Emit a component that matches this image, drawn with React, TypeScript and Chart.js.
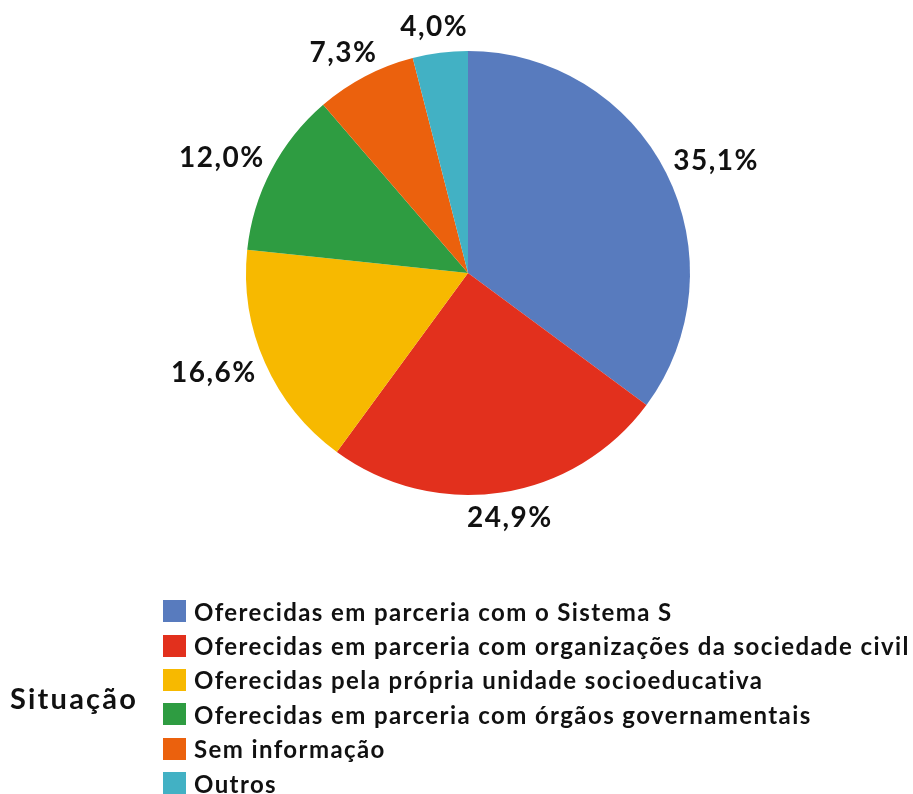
import React, { useEffect, useRef } from "react";
import { Chart, registerables } from "chart.js";

Chart.register(...registerables);

const categories = [
  "Oferecidas em parceria com o Sistema S",
  "Oferecidas em parceria com organizações da sociedade civil",
  "Oferecidas pela própria unidade socioeducativa",
  "Oferecidas em parceria com órgãos governamentais",
  "Sem informação",
  "Outros",
];
const values = [35.1, 24.9, 16.6, 12.0, 7.3, 4.0];
const colors = ["#587BBE", "#E2301D", "#F7B900", "#2E9C41", "#EB610D", "#42B1C4"];
const legendTitle = "Situação";

const FONT = "Lato, 'Noto Sans', sans-serif";

const fmt = (v: number) => v.toFixed(1).replace(".", ",") + "%";

const labelPlugin = {
  id: "outerLabels",
  afterDatasetsDraw(chart: any) {
    const ctx = chart.ctx;
    const meta = chart.getDatasetMeta(0);
    ctx.save();
    ctx.font = `bold 28px ${FONT}`;
    try {
      (ctx as any).letterSpacing = "1.5px";
    } catch (e) {}
    ctx.fillStyle = "#111";
    ctx.textAlign = "center";
    ctx.textBaseline = "middle";
    meta.data.forEach((arc: any, i: number) => {
      const { x, y, startAngle, endAngle, outerRadius } = arc.getProps(
        ["x", "y", "startAngle", "endAngle", "outerRadius"],
        true
      );
      const mid = (startAngle + endAngle) / 2;
      const dx = Math.cos(mid);
      const dy = Math.sin(mid);
      const text = fmt(values[i]);
      const w = ctx.measureText(text).width;
      const hw = w / 2;
      const hh = 13;
      const r = outerRadius + 13;
      const cx = x + dx * r + dx * hw;
      const cy = y + dy * r + dy * hh;
      ctx.fillText(text, cx, cy);
    });
    ctx.restore();
  },
};

export default function App() {
  const ref = useRef<HTMLCanvasElement>(null);
  useEffect(() => {
    document.body.style.margin = "0";
    const chart = new Chart(ref.current!, {
      type: "pie",
      data: {
        labels: categories,
        datasets: [
          {
            data: values,
            backgroundColor: colors,
            borderWidth: 0,
          },
        ],
      },
      options: {
        animation: false,
        responsive: false,
        layout: { padding: { left: 246, right: 223, top: 51, bottom: 299 } },
        plugins: {
          legend: { display: false },
          tooltip: { enabled: false },
        },
      },
      plugins: [labelPlugin],
    });
    return () => chart.destroy();
  }, []);

  return (
    <div style={{ position: "relative", width: 913, height: 794, background: "#fff", fontFamily: FONT }}>
      <canvas ref={ref} width={913} height={794} style={{ position: "absolute", left: 0, top: 0 }} />
      <div
        style={{
          position: "absolute",
          left: 10,
          top: 697,
          transform: "translateY(-50%)",
          fontWeight: 700,
          fontSize: 29,
          letterSpacing: 2.2,
          color: "#111",
        }}
      >
        {legendTitle}
      </div>
      <div style={{ position: "absolute", left: 163, top: 594 }}>
        {categories.map((c, i) => (
          <div
            key={c}
            style={{ display: "flex", alignItems: "center", height: 34.4, whiteSpace: "nowrap" }}
          >
            <span
              style={{ display: "inline-block", width: 23, height: 22, background: colors[i], marginRight: 8, flex: "none" }}
            />
            <span style={{ fontWeight: 700, fontSize: 24, letterSpacing: 1.4, color: "#111" }}>{c}</span>
          </div>
        ))}
      </div>
    </div>
  );
}
